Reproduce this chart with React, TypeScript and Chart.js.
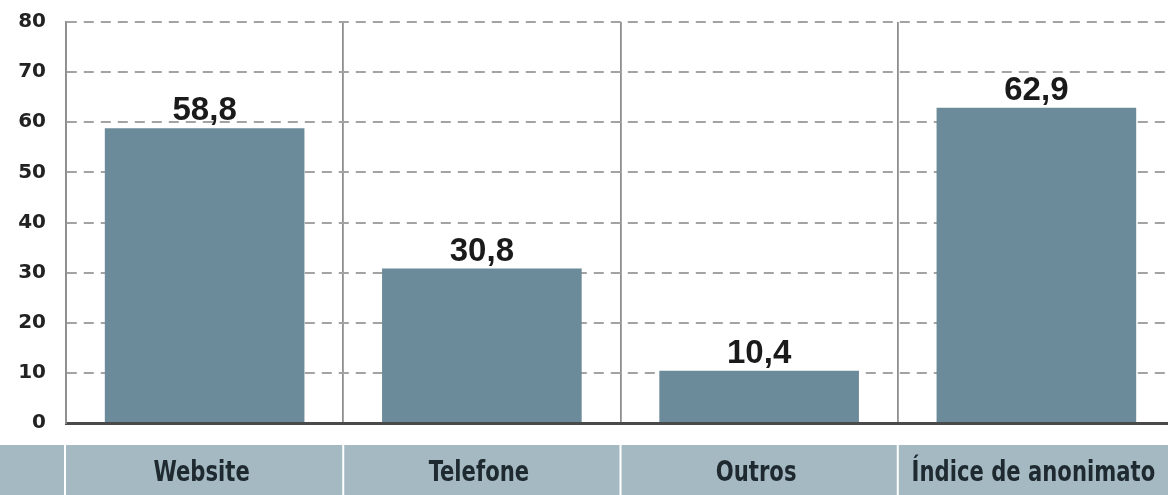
import React, { useEffect, useRef } from "react";
import { Chart, registerables } from "chart.js";

Chart.register(...registerables);

const categories = ["Website", "Telefone", "Outros", "Índice de anonimato"];
const values = [58.8, 30.8, 10.4, 62.9];
const yTicks = [0, 10, 20, 30, 40, 50, 60, 70, 80];

const BAR_COLOR = "#6b8b9a";
const BAND_COLOR = "#a5b9c3";

export default function App() {
  const ref = useRef<HTMLCanvasElement | null>(null);

  useEffect(() => {
    const canvas = ref.current;
    if (!canvas) return;

    const bandPlugin = {
      id: "band",
      beforeDraw(chart: any) {
        const { ctx, chartArea } = chart;
        const x = chart.scales.x;
        ctx.save();
        ctx.fillStyle = BAND_COLOR;
        ctx.fillRect(0, 445, chart.width, chart.height - 445);
        ctx.strokeStyle = "#ffffff";
        ctx.lineWidth = 2;
        const n = categories.length;
        const edges: number[] = [chartArea.left - 1];
        for (let i = 0; i < n - 1; i++) {
          edges.push((x.getPixelForValue(i) + x.getPixelForValue(i + 1)) / 2);
        }
        edges.forEach((ex) => {
          ctx.beginPath();
          ctx.moveTo(ex, 445);
          ctx.lineTo(ex, chart.height);
          ctx.stroke();
        });
        // category labels, narrow bold type
        ctx.fillStyle = "#1e2a30";
        ctx.font = "bold 28px 'DejaVu Sans Condensed', 'DejaVu Sans', sans-serif";
        ctx.textAlign = "center";
        ctx.textBaseline = "alphabetic";
        const sx = 0.84;
        (chart.data.labels as string[]).forEach((lab, i) => {
          const cx = x.getPixelForValue(i) - 3;
          ctx.save();
          ctx.translate(cx, 481);
          ctx.scale(sx, 1);
          ctx.fillText(lab, 0, 0);
          ctx.restore();
        });
        ctx.restore();
      },
    };

    const valuePlugin = {
      id: "values",
      afterDatasetsDraw(chart: any) {
        const { ctx } = chart;
        const meta = chart.getDatasetMeta(0);
        ctx.save();
        ctx.fillStyle = "#1a1a1a";
        ctx.font = "bold 33px 'Liberation Sans', 'DejaVu Sans', sans-serif";
        ctx.textAlign = "center";
        ctx.textBaseline = "alphabetic";
        meta.data.forEach((bar: any, i: number) => {
          const txt = values[i].toFixed(1).replace(".", ",");
          ctx.fillText(txt, bar.x, bar.y - 8);
        });
        ctx.restore();
      },
    };

    const chart = new Chart(canvas, {
      type: "bar",
      data: {
        labels: categories,
        datasets: [
          {
            data: values,
            backgroundColor: BAR_COLOR,
            borderWidth: 0,
            categoryPercentage: 1,
            barPercentage: 0.72,
          },
        ],
      },
      options: {
        responsive: false,
        animation: false,
        devicePixelRatio: 1,
        layout: { padding: { top: 22, right: 1, left: 0, bottom: 0 } },
        plugins: {
          legend: { display: false },
          tooltip: { enabled: false },
        },
        scales: {
          x: {
            offset: true,
            grid: {
              display: true,
              offset: true,
              color: "#8e8e8e",
              lineWidth: 1.8,
              drawTicks: false,
            },
            border: { display: true, color: "#4a4a4a", width: 3 },
            ticks: { display: false },
            afterFit(scale: any) {
              scale.height = 72;
              scale.paddingLeft = 0;
              scale.paddingRight = 0;
            },
          },
          y: {
            min: 0,
            max: 80,
            afterBuildTicks(scale: any) {
              scale.ticks = yTicks.map((v) => ({ value: v }));
            },
            grid: {
              color: (c: any) => (c.tick && c.tick.value === 0 ? "rgba(0,0,0,0)" : "#a3a3a3"),
              lineWidth: 2,
              drawTicks: false,
            },
            border: { display: true, color: "#8e8e8e", width: 1.8, dash: [10, 7] },
            ticks: {
              padding: 20,
              color: "#222222",
              font: { family: "'DejaVu Sans', sans-serif", size: 20, weight: "bold" },
            },
            afterFit(scale: any) {
              scale.width = 66;
              scale.paddingTop = 0;
              scale.paddingBottom = 0;
            },
          },
        },
      },
      plugins: [bandPlugin, valuePlugin],
    });

    return () => chart.destroy();
  }, []);

  return (
    <div
      style={{
        position: "absolute",
        left: 0,
        top: 0,
        width: 1168,
        height: 495,
        overflow: "hidden",
        background: "#ffffff",
      }}
    >
      <canvas ref={ref} width={1176} height={495} style={{ display: "block", width: 1176, height: 495 }} />
    </div>
  );
}
